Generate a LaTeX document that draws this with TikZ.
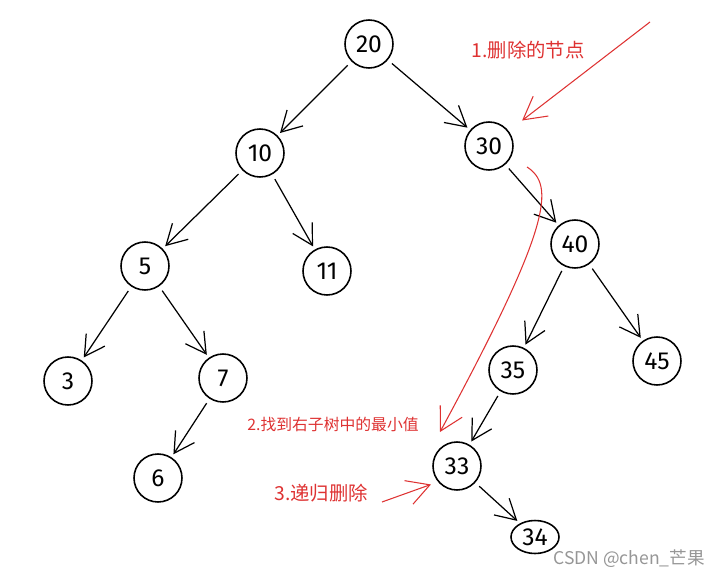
\documentclass[tikz,border=0pt]{standalone}
\usepackage{fontspec}
\setmainfont{Fira Sans}
\newfontfamily\cjk{Noto Sans CJK SC}
\usetikzlibrary{arrows.meta,shapes.geometric}
\definecolor{markred}{RGB}{222,50,50}
\definecolor{wmgray}{RGB}{150,150,150}

\begin{document}
\begin{tikzpicture}[x=0.02cm,y=-0.02cm,
  nd/.style={draw,circle,line width=0.9pt,minimum size=0.96cm,inner sep=0pt,font=\fontsize{14}{16}\selectfont},
  arr/.style={line width=0.7pt,-{Straight Barb[length=4mm,width=4.5mm]},shorten <=3pt,shorten >=2pt},
  rarr/.style={markred,line width=0.6pt,-{Straight Barb[length=4.5mm,width=5mm]}},
  note/.style={text=markred,font=\cjk\fontsize{11}{13}\selectfont}]
\useasboundingbox (0,0) rectangle (707,575);
% tree
\node[nd] (n20) at (369,44) {20};
\node[nd] (n10) at (260,153) {10};
\node[nd] (n30) at (489,146) {30};
\node[nd] (n5) at (145,266) {5};
\node[nd] (n11) at (327,271) {11};
\node[nd] (n40) at (575,244) {40};
\node[nd] (n3) at (68,381) {3};
\node[nd] (n7) at (223,378) {7};
\node[nd] (n35) at (513,370) {35};
\node[nd] (n45) at (657,361) {45};
\node[nd] (n6) at (158,478) {6};
\node[nd] (n33) at (457,466) {33};
\node[nd,ellipse,minimum width=0.96cm,minimum height=0.66cm] (n34) at (535,537) {34};
\draw[arr](n20)--(n10);\draw[arr](n20)--(n30);
\draw[arr](n10)--(n5);\draw[arr](n10)--(n11);
\draw[arr](n30)--(n40);
\draw[arr](n5)--(n3);\draw[arr](n5)--(n7);
\draw[arr](n40)--(n35);\draw[arr](n40)--(n45);
\draw[arr](n7)--(n6);\draw[arr](n35)--(n33);\draw[arr](n33)--(n34);
% notes
\node[note] (t1) at (528,50) {1.删除的节点};
\node[note,font=\cjk\fontsize{9}{11}\selectfont] (t2) at (333,424) {2.找到右子树中的最小值};
\node[note] (t3) at (321,493) {3.递归删除};
\coordinate (r1) at (650,22);
\coordinate (r2s) at (527,167);
\coordinate (r2e) at (440,432);
\coordinate (r3) at (382,502);
\draw[rarr,shorten >=0.34cm](r1)--(n30);
\draw[rarr](r2s)..controls (555,185) and (552,225)..(r2e);
\draw[rarr,shorten >=0.15cm](r3)--(n33.220);
\node[text=wmgray,font=\fontsize{10}{12}\selectfont\cjk,anchor=west,inner sep=0pt] (wm) at (553,559) {CSDN @chen\_芒果};
\end{tikzpicture}
\end{document}
